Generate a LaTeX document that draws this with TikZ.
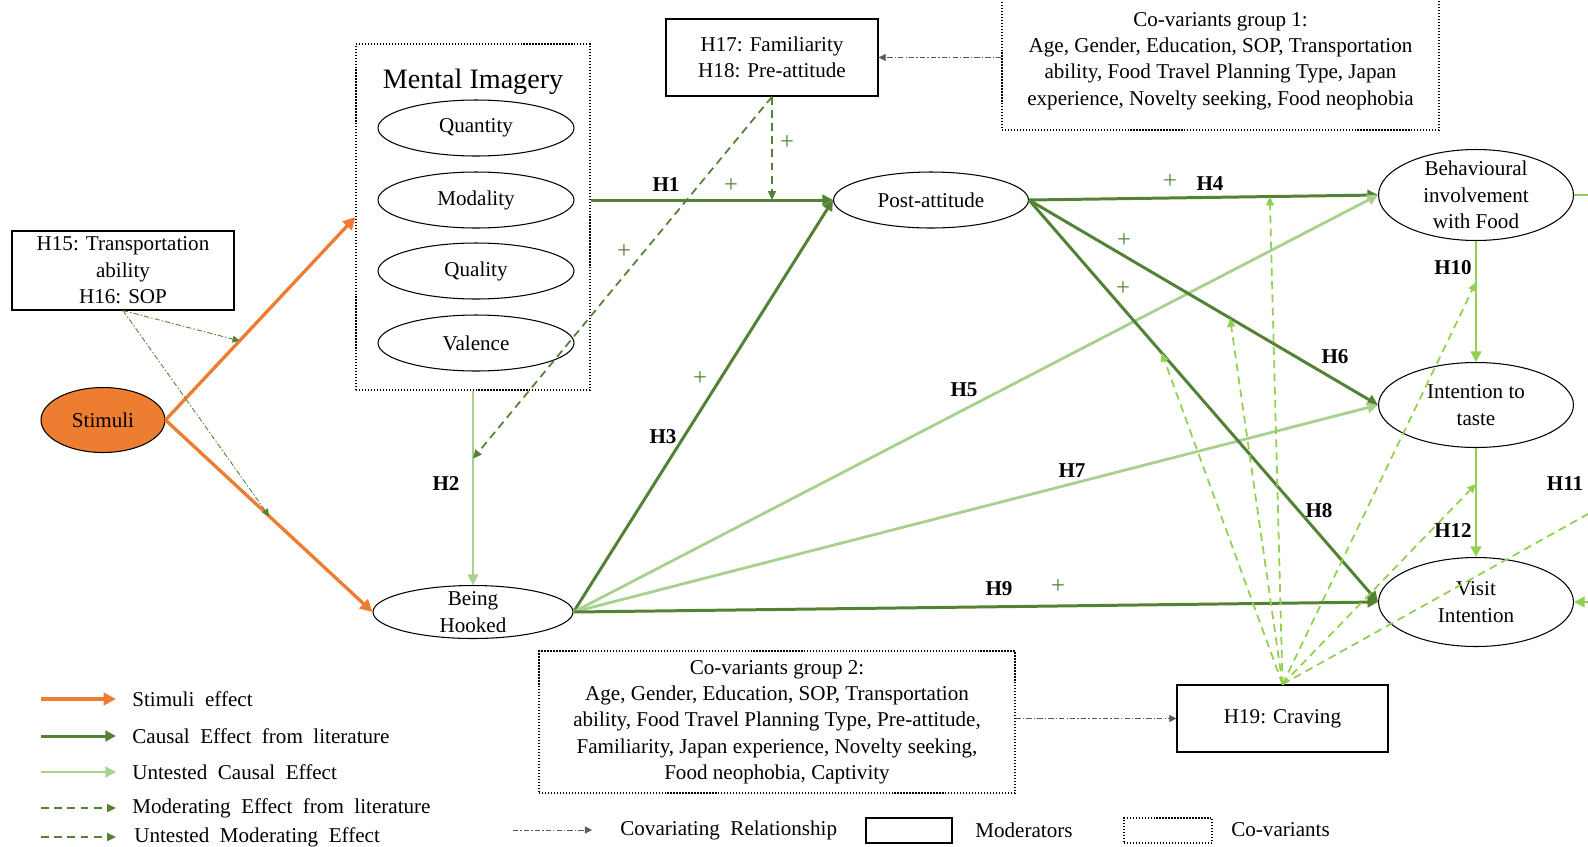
\documentclass[tikz,border=0pt]{standalone}
\usepackage{fontspec}
\setmainfont{Liberation Serif}
\usetikzlibrary{shapes.geometric,arrows.meta,calc}
\definecolor{stimorange}{HTML}{ED7D31}
\definecolor{litgreen}{HTML}{548235}
\definecolor{palegreen}{HTML}{A9D18E}
\definecolor{limegreen}{HTML}{92D050}
\begin{document}
\begin{tikzpicture}[x=0.02cm, y=-0.02cm,
    every node/.style={font=\fontsize{12}{15}\selectfont},
    construct/.style={draw, ellipse, inner sep=-6pt, align=center, line width=0.6pt, minimum width=3.9cm},
    modbox/.style={draw, rectangle, align=center, line width=0.8pt},
    covbox/.style={draw, densely dotted, rectangle, align=center, line width=0.7pt},
    stimeff/.style={-{Triangle[length=7pt,width=7pt]}, line width=1.9pt, stimorange},
    litcause/.style={-{Triangle[length=6pt,width=6pt]}, line width=1.7pt, litgreen},
    untested/.style={-{Triangle[length=6pt,width=6pt]}, line width=1.6pt, palegreen},
    chain/.style={-{Triangle[length=6pt,width=6pt]}, line width=1.4pt, limegreen},
    moderate/.style={-{Triangle[length=5pt,width=4.5pt]}, line width=1pt, dash pattern=on 4.5pt off 3pt, litgreen},
    cravemod/.style={moderate, limegreen},
    covary/.style={-{Triangle[length=4pt,width=4pt]}, line width=0.5pt, gray!70!black, dash pattern=on 3pt off 1.2pt on 0.8pt off 1.2pt},
    sopmod/.style={covary, litgreen},
    hlabel/.style={font=\fontsize{12}{14}\selectfont\bfseries},
    plus/.style={text=litgreen, font=\fontsize{14}{14}\selectfont},
    legtext/.style={anchor=west, inner sep=0pt}]
\useasboundingbox (0,0) rectangle (1588,846);

% constructs
\node[construct, fill=stimorange, minimum width=2.48cm, minimum height=1.3cm] (stim) at (103,420) {Stimuli};
\node[modbox, minimum width=4.44cm, minimum height=1.54cm] (h15) at (123,270.5) {H15: Transportation\\ability\\H16: SOP};
\node[covbox, minimum width=4.68cm, minimum height=6.92cm] (mi) at (473,217) {};
\node[font=\fontsize{16}{18}\selectfont] (mititle) at (473,82) {Mental Imagery};
\node[construct, minimum width=3.92cm, minimum height=1.12cm] (quan) at (476,128) {Quantity};
\node[construct, minimum width=3.92cm, minimum height=1.12cm] (moda) at (476,200) {Modality};
\node[construct, minimum width=3.92cm, minimum height=1.12cm] (qual) at (476,271) {Quality};
\node[construct, minimum width=3.92cm, minimum height=1.12cm] (vale) at (476,343) {Valence};
\node[modbox, minimum width=4.24cm, minimum height=1.54cm] (h17) at (772,57.5) {H17: Familiarity\\H18: Pre-attitude};
\node[covbox, minimum width=8.74cm, minimum height=2.76cm] (co1) at (1220.5,61) {Co-variants group 1:\\Age, Gender, Education, SOP, Transportation\\ability, Food Travel Planning Type, Japan\\experience, Novelty seeking, Food neophobia};
\node[construct, minimum height=1.12cm] (post) at (931,200) {Post-attitude};
\node[construct, minimum height=1.82cm] (beh) at (1476,195) {Behavioural\\involvement\\with Food};
\node[construct, minimum height=1.7cm] (taste) at (1476,405) {Intention to\\taste};
\node[construct, minimum height=1.78cm] (visit) at (1476,602) {Visit\\Intention};
\node[construct, minimum width=4cm, minimum height=1.06cm] (hook) at (473,612) {Being\\Hooked};
\node[covbox, minimum width=9.52cm, minimum height=2.84cm] (co2) at (777,722) {Co-variants group 2:\\Age, Gender, Education, SOP, Transportation\\ability, Food Travel Planning Type, Pre-attitude,\\Familiarity, Japan experience, Novelty seeking,\\Food neophobia, Captivity};
\node[modbox, minimum width=4.22cm, minimum height=1.34cm] (h19) at (1282.5,718.5) {H19: Craving};

% stimuli effects
\draw[stimeff] (stim.east) -- (mi.west);
\draw[stimeff] (stim.east) -- (hook.west);
\coordinate (sopa) at ($(stim.east)!0.39!(mi.west)$);
\coordinate (sopb) at ($(stim.east)!0.5!(hook.west)$);
\draw[sopmod] (h15.south) -- (sopa);
\draw[sopmod] (h15.south) -- (sopb);

% causal paths
\draw[litcause] (mi.east |- moda.east) -- (post.west);
\draw[untested] (mi.south) -- (hook.north);
\draw[litcause] (hook.east) -- (post.west);
\draw[litcause] (post.east) -- (beh.west);
\draw[untested] (hook.east) -- (beh.west);
\draw[litcause] (post.east) -- (taste.west);
\draw[untested] (hook.east) -- (taste.west);
\draw[litcause] (post.east) -- (visit.west);
\draw[litcause] (hook.east) -- (visit.west);
\draw[chain] (beh.south) -- (taste.north);
\draw[chain] (taste.south) -- (visit.north);
\draw[chain] (beh.east) -- ++(70,0) |- (visit.east);

% moderators
\coordinate (famh1) at (h17.south |- post.west);
\coordinate (famh2) at ($(mi.south)!0.35!(hook.north)$);
\draw[moderate] (h17.south) -- (famh1);
\draw[moderate] (h17.south) -- (famh2);
\coordinate (crh4) at ($(post.east)!0.69!(beh.west)$);
\coordinate (crh6) at ($(post.east)!0.576!(taste.west)$);
\coordinate (crh8) at ($(post.east)!0.38!(visit.west)$);
\coordinate (crh10) at ($(beh.south)!0.34!(taste.north)$);
\coordinate (crh12) at ($(taste.south)!0.33!(visit.north)$);
\coordinate (crh11) at (1640,485);
\draw[cravemod] (h19.north) -- (crh4);
\draw[cravemod] (h19.north) -- (crh6);
\draw[cravemod] (h19.north) -- (crh8);
\draw[cravemod] (h19.north) -- (crh10);
\draw[cravemod] (h19.north) -- (crh12);
\draw[cravemod] (h19.north) -- (crh11);

% covariates
\draw[covary] (co1.west |- h17.east) -- (h17.east);
\draw[covary] (co2.east |- h19.west) -- (h19.west);

% hypothesis labels
\node[hlabel] (lh1) at (666,185) {H1};
\node[hlabel] (lh2) at (446,484) {H2};
\node[hlabel] (lh3) at (663,437) {H3};
\node[hlabel] (lh4) at (1210,184) {H4};
\node[hlabel] (lh5) at (964,390) {H5};
\node[hlabel] (lh6) at (1335,357) {H6};
\node[hlabel] (lh7) at (1072,471) {H7};
\node[hlabel] (lh8) at (1319,511) {H8};
\node[hlabel] (lh9) at (999,589) {H9};
\node[hlabel] (lh10) at (1453,268) {H10};
\node[hlabel] (lh11) at (1565,484) {H11};
\node[hlabel] (lh12) at (1453,531) {H12};
\node[plus] (p1) at (731,186) {+};
\node[plus] (p2) at (787,143) {+};
\node[plus] (p3) at (624,252) {+};
\node[plus] (p4) at (700,379) {+};
\node[plus] (p5) at (1170,182) {+};
\node[plus] (p6) at (1124,241) {+};
\node[plus] (p7) at (1123,289) {+};
\node[plus] (p8) at (1058,587) {+};

% legend
\coordinate (lg1) at (41,699);
\coordinate (lg2) at (41,736);
\coordinate (lg3) at (41,772);
\coordinate (lg4) at (41,808);
\coordinate (lg5) at (41,837);
\draw[stimeff] (lg1) -- ++(75,0);
\draw[litcause] (lg2) -- ++(75,0);
\draw[untested] (lg3) -- ++(75,0);
\draw[moderate] (lg4) -- ++(75,0);
\draw[moderate] (lg5) -- ++(75,0);
\node[legtext] (lt1) at (132,699) {Stimuli\ \ effect};
\node[legtext] (lt2) at (132,736) {Causal\ \ Effect\ \ from\ \ literature};
\node[legtext] (lt3) at (132,772) {Untested\ \ Causal\ \ Effect};
\node[legtext] (lt4) at (132,808) {Moderating\ \ Effect\ \ from\ \ literature};
\node[legtext] (lt5) at (134,837) {Untested\ \ Moderating\ \ Effect};
\coordinate (lg6) at (513,830);
\draw[covary] (lg6) -- ++(79,0);
\node[legtext] (lt6) at (620,830) {Covariating\ \ Relationship};
\node[modbox, minimum width=1.72cm, minimum height=0.5cm] (lgmod) at (909,830.5) {};
\node[legtext] (lt7) at (975,830) {Moderators};
\node[covbox, minimum width=1.76cm, minimum height=0.5cm] (lgcov) at (1168,830.5) {};
\node[legtext] (lt8) at (1231,830) {Co-variants};
\end{tikzpicture}
\end{document}
